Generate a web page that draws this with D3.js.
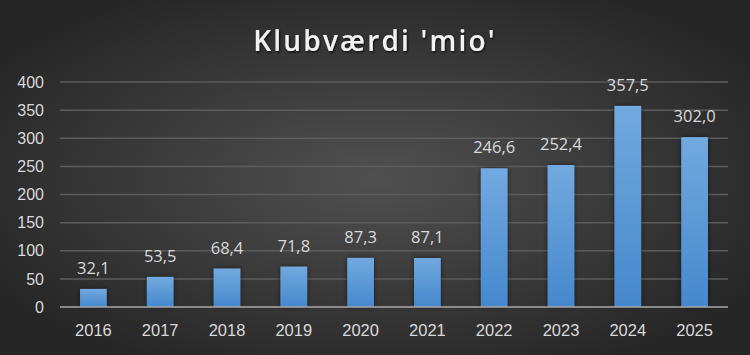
<!DOCTYPE html>
<html>
<head>
<meta charset="utf-8">
<script src="https://cdn.jsdelivr.net/npm/d3@7"></script>
<style>
  html, body { margin: 0; padding: 0; background: #333; }
  svg { display: block; font-family: "Open Sans", Calibri, sans-serif; }
</style>
</head>
<body>
<div id="chart"></div>
<script>
const years = ["2016", "2017", "2018", "2019", "2020", "2021", "2022", "2023", "2024", "2025"];
const values = [32.1, 53.5, 68.4, 71.8, 87.3, 87.1, 246.6, 252.4, 357.5, 302.0];
const yTicks = [0, 50, 100, 150, 200, 250, 300, 350, 400];
const title = "Klubværdi 'mio'";

const width = 750;
const height = 355;
const margin = { top: 82, right: 22, bottom: 48, left: 60 };

const fmt = (v) => d3.format(".1f")(v).replace(".", ",");

const svg = d3.select("#chart").append("svg")
  .attr("width", width)
  .attr("height", height);

const defs = svg.append("defs");

const bg = defs.append("radialGradient")
  .attr("id", "bg")
  .attr("cx", "50%").attr("cy", "50%").attr("r", "60%");
bg.append("stop").attr("offset", "0%").attr("stop-color", "#505050");
bg.append("stop").attr("offset", "100%").attr("stop-color", "#262626");

const barGrad = defs.append("linearGradient")
  .attr("id", "bar")
  .attr("x1", 0).attr("y1", 0).attr("x2", 0).attr("y2", 1);
barGrad.append("stop").attr("offset", "0%").attr("stop-color", "#72a9df");
barGrad.append("stop").attr("offset", "100%").attr("stop-color", "#4588cd");

const shadow = defs.append("filter")
  .attr("id", "shadow")
  .attr("x", "-50%").attr("y", "-20%").attr("width", "200%").attr("height", "140%");
shadow.append("feDropShadow")
  .attr("dx", 0).attr("dy", 0).attr("stdDeviation", 2.5)
  .attr("flood-color", "#000").attr("flood-opacity", 0.55);

const titleShadow = defs.append("filter").attr("id", "tshadow");
titleShadow.append("feDropShadow")
  .attr("dx", 1).attr("dy", 1.5).attr("stdDeviation", 1)
  .attr("flood-color", "#000").attr("flood-opacity", 0.7);

svg.append("rect")
  .attr("width", width).attr("height", height)
  .attr("fill", "url(#bg)");

const x = d3.scaleBand()
  .domain(years)
  .range([margin.left, width - margin.right])
  .paddingInner(0.6)
  .paddingOuter(0.3);

const y = d3.scaleLinear()
  .domain([0, 400])
  .range([height - margin.bottom, margin.top]);

// grid
svg.append("g")
  .selectAll("line")
  .data(yTicks.filter((d) => d > 0))
  .join("line")
  .attr("x1", margin.left)
  .attr("x2", width - margin.right)
  .attr("y1", (d) => y(d))
  .attr("y2", (d) => y(d))
  .attr("stroke", "#5c5c5c")
  .attr("stroke-width", 1.5);

// y axis
const yAxis = svg.append("g")
  .attr("transform", `translate(${margin.left},0)`)
  .call(d3.axisLeft(y).tickValues(yTicks).tickSize(0).tickPadding(16));
yAxis.select(".domain").remove();
yAxis.selectAll("text")
  .attr("fill", "#d9d9d9")
  .attr("font-size", 16);

// bars
svg.append("g")
  .selectAll("rect")
  .data(values)
  .join("rect")
  .attr("x", (d, i) => x(years[i]))
  .attr("width", x.bandwidth())
  .attr("y", (d) => y(d))
  .attr("height", (d) => y(0) - y(d))
  .attr("fill", "url(#bar)")
  .attr("filter", "url(#shadow)");

// baseline
svg.append("line")
  .attr("x1", margin.left)
  .attr("x2", width - margin.right)
  .attr("y1", y(0))
  .attr("y2", y(0))
  .attr("stroke", "#a8a8a8")
  .attr("stroke-width", 1.5);

// x axis
const xAxis = svg.append("g")
  .attr("transform", `translate(0,${y(0)})`)
  .call(d3.axisBottom(x).tickSize(0).tickPadding(17));
xAxis.select(".domain").remove();
xAxis.selectAll("text")
  .attr("fill", "#d9d9d9")
  .attr("font-size", 16.5);

// value labels
svg.append("g")
  .selectAll("text")
  .data(values)
  .join("text")
  .attr("x", (d, i) => x(years[i]) + x.bandwidth() / 2)
  .attr("y", (d) => y(d) - 15)
  .attr("text-anchor", "middle")
  .attr("fill", "#d9d9d9")
  .attr("font-size", 16.5)
  .text(fmt);

// title
svg.append("text")
  .attr("x", width / 2)
  .attr("y", 51)
  .attr("text-anchor", "middle")
  .attr("fill", "#f2f2f2")
  .attr("font-size", 28)
  .attr("font-weight", 600)
  .attr("letter-spacing", 2.2)
  .attr("filter", "url(#tshadow)")
  .text(title);
</script>
</body>
</html>
